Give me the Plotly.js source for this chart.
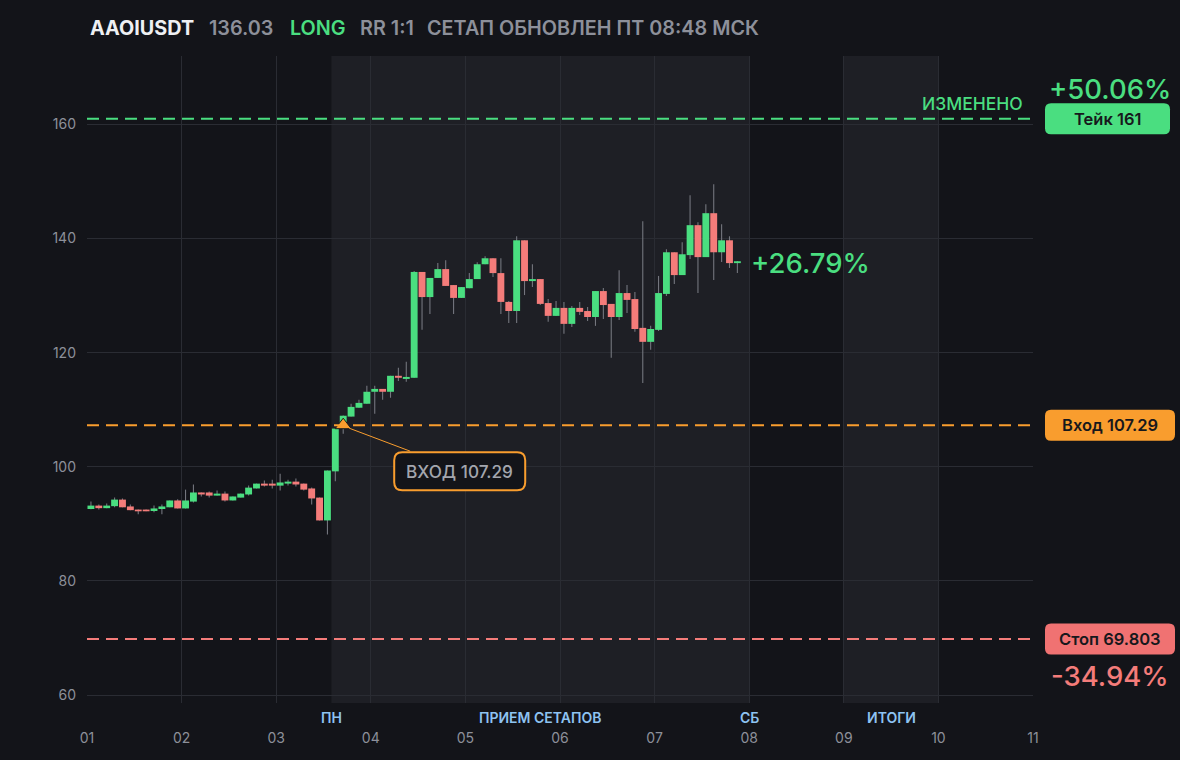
<!DOCTYPE html>
<html><head><meta charset="utf-8">
<script src="https://cdn.plot.ly/plotly-3.0.1.min.js"></script>
<style>html,body{margin:0;padding:0;background:#131419;}#chart{width:1180px;height:760px;}</style>
</head><body><div id="chart"></div>
<script>
// ---- data (2h candles, open times) ----
const times = [
 '2025-11-01 00:00','2025-11-01 02:00','2025-11-01 04:00','2025-11-01 06:00','2025-11-01 08:00','2025-11-01 10:00',
 '2025-11-01 12:00','2025-11-01 14:00','2025-11-01 16:00','2025-11-01 18:00','2025-11-01 20:00','2025-11-01 22:00',
 '2025-11-02 00:00','2025-11-02 02:00','2025-11-02 04:00','2025-11-02 06:00','2025-11-02 08:00','2025-11-02 10:00',
 '2025-11-02 12:00','2025-11-02 14:00','2025-11-02 16:00','2025-11-02 18:00','2025-11-02 20:00','2025-11-02 22:00',
 '2025-11-03 00:00','2025-11-03 02:00','2025-11-03 04:00','2025-11-03 06:00','2025-11-03 08:00','2025-11-03 10:00',
 '2025-11-03 12:00','2025-11-03 14:00','2025-11-03 16:00','2025-11-03 18:00','2025-11-03 20:00','2025-11-03 22:00',
 '2025-11-04 00:00','2025-11-04 02:00','2025-11-04 04:00','2025-11-04 06:00','2025-11-04 08:00','2025-11-04 10:00',
 '2025-11-04 12:00','2025-11-04 14:00','2025-11-04 16:00','2025-11-04 18:00','2025-11-04 20:00','2025-11-04 22:00',
 '2025-11-05 00:00','2025-11-05 02:00','2025-11-05 04:00','2025-11-05 06:00','2025-11-05 08:00','2025-11-05 10:00',
 '2025-11-05 12:00','2025-11-05 14:00','2025-11-05 16:00','2025-11-05 18:00','2025-11-05 20:00','2025-11-05 22:00',
 '2025-11-06 00:00','2025-11-06 02:00','2025-11-06 04:00','2025-11-06 06:00','2025-11-06 08:00','2025-11-06 10:00',
 '2025-11-06 12:00','2025-11-06 14:00','2025-11-06 16:00','2025-11-06 18:00','2025-11-06 20:00','2025-11-06 22:00',
 '2025-11-07 00:00','2025-11-07 02:00','2025-11-07 04:00','2025-11-07 06:00','2025-11-07 08:00','2025-11-07 10:00',
 '2025-11-07 12:00','2025-11-07 14:00','2025-11-07 16:00','2025-11-07 18:00','2025-11-07 20:00'
];
const open = [
 92.6,93.2,92.75,93.1,94.25,93.05,92.5,92.5,92.25,92.6,92.9,94.1,
 92.7,93.9,95.5,95.5,94.95,95.3,94.1,94.6,95.15,96.2,97.05,97.05,
 96.7,97.05,97.4,97.05,96.2,94.6,90.6,99.2,106.7,108.8,110.35,111.05,
 113.15,113.65,113.15,115.95,115.4,115.6,134.15,129.75,133.1,134.65,131.85,129.6,
 131.3,132.9,135.5,136.55,133.95,128.9,127.3,139.7,132.55,132.9,128.7,126.45,
 127.85,125.05,127.85,127.3,126.25,130.8,128.55,126.25,130.45,129.4,124.35,121.9,
 124.0,130.3,137.6,133.6,137.1,142.35,136.75,144.45,137.6,139.7,135.7
];
const high = [
 93.9,93.4,93.55,94.6,94.45,93.4,92.5,92.5,93.2,93.4,94.1,94.3,
 96.0,96.9,95.5,95.65,95.85,95.65,94.8,95.3,96.7,97.05,97.6,97.75,
 98.8,97.75,97.95,97.05,96.35,94.6,99.35,106.7,109.0,111.05,111.75,114.2,
 114.2,113.65,115.95,117.35,118.4,134.3,134.15,133.1,135.7,136.2,131.85,131.5,
 133.95,135.85,136.9,136.55,136.55,129.05,140.4,139.7,135.5,132.9,129.4,129.05,
 128.9,128.2,128.9,128.0,130.8,131.35,128.55,134.45,131.85,130.65,143.05,124.7,
 133.45,138.15,137.6,139.35,147.6,142.85,146.0,149.5,142.5,140.4,136.05
];
const low = [
 92.55,92.5,92.75,92.9,92.9,92.4,91.7,92.2,92.05,91.7,92.9,92.7,
 92.7,93.75,94.8,94.6,94.95,93.9,94.1,94.6,94.95,96.2,96.55,96.2,
 95.85,96.7,96.55,95.85,93.4,90.6,88.15,97.45,105.8,108.8,110.35,111.05,
 109.3,111.75,112.1,115.05,114.9,115.6,124.0,126.8,133.1,131.7,126.8,129.6,
 131.3,132.9,135.5,133.25,126.8,125.2,125.2,130.1,131.5,128.35,125.4,126.45,
 123.3,124.5,126.6,125.55,124.7,125.9,119.1,125.75,126.95,123.65,114.7,120.5,
 123.8,129.95,132.05,133.6,136.4,130.45,136.75,132.75,135.9,134.85,133.95
];
const close = [
 93.2,92.75,93.2,94.25,92.9,92.4,92.2,92.2,92.7,93.05,94.1,92.7,
 94.1,95.5,95.15,94.95,95.3,94.1,94.8,95.3,96.35,97.05,96.7,96.7,
 97.25,97.4,96.9,96.0,94.45,90.6,99.35,106.7,108.95,110.5,111.2,113.15,
 113.65,113.15,115.95,115.6,115.75,134.15,129.75,133.1,134.65,131.7,129.6,131.5,
 132.9,135.5,136.55,133.95,128.9,127.3,139.7,132.55,132.9,128.55,126.45,127.85,
 125.05,127.85,127.15,126.25,130.8,128.35,126.25,130.45,129.25,124.15,121.9,124.15,
 130.45,137.6,133.6,137.25,142.35,136.75,144.45,137.6,139.7,135.7,136.03
];
const yTickVals = [60, 80, 100, 120, 140, 160];
const takePrice = 161, entryPrice = 107.29, stopPrice = 69.803, lastPrice = 136.03;
const entryTime = '2025-11-03 17:00';
const sessionStarts = ['2025-11-03 14:00', '2025-11-09 00:00'];
const sessionEnds = ['2025-11-08 00:00', '2025-11-10 00:00'];
const sessionLabels = ['ПН', 'ПРИЕМ СЕТАПОВ', 'СБ', 'ИТОГИ'];
const sessionLabelTimes = ['2025-11-03 14:00', '2025-11-05 19:00', '2025-11-08 00:00', '2025-11-09 12:00'];

// ---- styles ----
const BG = '#131419', SHADE = '#1e1f25', GRID = '#2a2c33';
const GREEN = '#4ade80', RED = '#f47c7a', ORANGE = '#f99d2e', WICK = '#74767e';
const TXT = '#8d909a', FONT = 'Inter, "Noto Sans", sans-serif';
const PL = 87, PW = 946;
const px2paper = p => (p - PL) / PW;

const up = close.map((c, i) => c >= open[i]);
const bodyBase = open.map((o, i) => Math.min(o, close[i]));
const bodyLen = open.map((o, i) => Math.max(Math.abs(close[i] - o), 0.3));
const wickLen = high.map((h, i) => h - low[i]);

const traces = [
  { type: 'bar', x: times, base: low, y: wickLen, width: 1000000,
    xperiod: 7200000, xperiodalignment: 'middle',
    marker: { color: WICK, line: { width: 0 } }, hoverinfo: 'skip', showlegend: false },
  { type: 'bar', x: times, base: bodyBase, y: bodyLen, width: 6300000,
    xperiod: 7200000, xperiodalignment: 'middle',
    marker: { color: up.map(u => u ? GREEN : RED), line: { width: 0 } }, hoverinfo: 'skip', showlegend: false },
  { type: 'scatter', mode: 'markers', x: [entryTime], y: [entryPrice],
    marker: { symbol: 'triangle-up', size: 14, color: ORANGE, line: { color: '#1a1a1a', width: 1 } },
    hoverinfo: 'skip', showlegend: false }
];

function rr(x0, y0, x1, y1, r) {
  return `M ${x0 + r},${y0} L ${x1 - r},${y0} Q ${x1},${y0} ${x1},${y0 + r} L ${x1},${y1 - r} Q ${x1},${y1} ${x1 - r},${y1} ` +
         `L ${x0 + r},${y1} Q ${x0},${y1} ${x0},${y1 - r} L ${x0},${y0 + r} Q ${x0},${y0} ${x0 + r},${y0} Z`;
}

const shapes = [];
sessionStarts.forEach((s, i) => shapes.push({ type: 'rect', layer: 'below', xref: 'x', yref: 'paper',
  x0: s, x1: sessionEnds[i], y0: 0, y1: 1, fillcolor: SHADE, line: { width: 0 } }));
[[takePrice, GREEN], [entryPrice, ORANGE], [stopPrice, RED]].forEach(([v, c]) => shapes.push({
  type: 'line', xref: 'paper', yref: 'y', x0: 0, x1: 1, y0: v, y1: v, line: { color: c, width: 2, dash: '12px,7px' } }));
// badges
const badgeX = px2paper(1045);
const badges = [
  { v: takePrice, w: 125, fill: GREEN, text: 'Тейк 161' },
  { v: entryPrice, w: 130, fill: ORANGE, text: 'Вход 107.29' },
  { v: stopPrice, w: 130, fill: '#f07272', text: 'Стоп 69.803' }
];
badges.forEach(b => shapes.push({ type: 'path', xref: 'paper', yref: 'y', xsizemode: 'pixel', ysizemode: 'pixel',
  xanchor: badgeX, yanchor: b.v, path: rr(0, -15.5, b.w, 15.5, 6), fillcolor: b.fill, line: { width: 0 } }));
// entry callout box and leader
shapes.push({ type: 'path', xref: 'x', yref: 'y', xsizemode: 'pixel', ysizemode: 'pixel',
  xanchor: entryTime, yanchor: entryPrice, path: rr(51, -65, 182, -27, 8), fillcolor: BG, line: { color: ORANGE, width: 2 } });
shapes.push({ type: 'line', xref: 'x', yref: 'y', xsizemode: 'pixel', ysizemode: 'pixel',
  xanchor: entryTime, yanchor: entryPrice, x0: 6, y0: -3, x1: 67, y1: -26, line: { color: ORANGE, width: 1 } });

const annotations = [];
// title pieces
[['AAOIUSDT', 88, '#eef0f3', 700], ['136.03', 207, TXT, 600], ['LONG', 288, GREEN, 600],
 ['RR 1:1', 358, TXT, 600], ['СЕТАП ОБНОВЛЕН ПТ 08:48 МСК', 425, TXT, 600]].forEach(([t, p, c, w]) =>
  annotations.push({ text: t, xref: 'paper', yref: 'paper', x: px2paper(p), y: 1, xanchor: 'left', yanchor: 'middle',
    yshift: 28, showarrow: false, font: { family: FONT, size: 19.8, color: c, weight: w } }));
badges.forEach(b => annotations.push({ text: b.text, xref: 'paper', yref: 'y', x: px2paper(1045 + b.w / 2), y: b.v,
  xanchor: 'center', yanchor: 'middle', showarrow: false, font: { family: FONT, size: 16.5, color: '#17181c', weight: 600 } }));
annotations.push({ text: '+50.06%', xref: 'paper', yref: 'y', x: px2paper(1173), y: takePrice, xanchor: 'right', yanchor: 'middle',
  yshift: 30, showarrow: false, font: { family: FONT, size: 27.5, color: GREEN, weight: 500 } });
annotations.push({ text: '-34.94%', xref: 'paper', yref: 'y', x: px2paper(1171), y: stopPrice, xanchor: 'right', yanchor: 'middle',
  yshift: -37, showarrow: false, font: { family: FONT, size: 27.5, color: RED, weight: 500 } });
annotations.push({ text: 'ИЗМЕНЕНО', xref: 'paper', yref: 'y', x: px2paper(1025), y: takePrice, xanchor: 'right', yanchor: 'middle',
  yshift: 15, showarrow: false, font: { family: FONT, size: 17.5, color: GREEN, weight: 500 } });
annotations.push({ text: '+26.79%', xref: 'paper', yref: 'y', x: px2paper(749), y: lastPrice, xanchor: 'left', yanchor: 'middle',
  yshift: -2, showarrow: false, font: { family: FONT, size: 27.5, color: GREEN, weight: 500 } });
annotations.push({ text: 'ВХОД 107.29', xref: 'x', yref: 'y', x: entryTime, y: entryPrice, xanchor: 'center', yanchor: 'middle',
  xshift: 116.5, yshift: -46, showarrow: false, font: { family: FONT, size: 17.2, color: '#a3a6ae', weight: 500 } });
sessionLabels.forEach((t, i) => annotations.push({ text: t, xref: 'x', yref: 'paper', x: sessionLabelTimes[i], y: 0,
  xanchor: 'center', yanchor: 'middle', yshift: -14, showarrow: false, font: { family: FONT, size: 14, color: '#8ec3f2', weight: 600 } }));

const layout = {
  width: 1180, height: 760,
  margin: { l: PL, r: 1180 - PL - PW, t: 56, b: 57, pad: 0 },
  paper_bgcolor: BG, plot_bgcolor: BG,
  barmode: 'overlay', showlegend: false, hovermode: false,
  font: { family: FONT, color: TXT, size: 14 },
  xaxis: { type: 'date', range: ['2025-11-01 00:00', '2025-11-11 00:00'], tick0: '2025-11-01', dtick: 86400000,
    tickformat: '%d', showgrid: true, gridcolor: GRID, gridwidth: 1, zeroline: false, showline: false,
    ticks: '', ticklabelstandoff: 25, tickfont: { family: FONT, size: 14, color: TXT }, fixedrange: true },
  yaxis: { range: [58.6, 172], tickvals: yTickVals, showgrid: true, gridcolor: GRID, gridwidth: 1, zeroline: false,
    showline: false, ticks: '', ticklabelstandoff: 10, tickfont: { family: FONT, size: 14, color: TXT }, fixedrange: true },
  shapes: shapes, annotations: annotations
};

Plotly.newPlot('chart', traces, layout, { displayModeBar: false, staticPlot: true });
</script></body></html>
